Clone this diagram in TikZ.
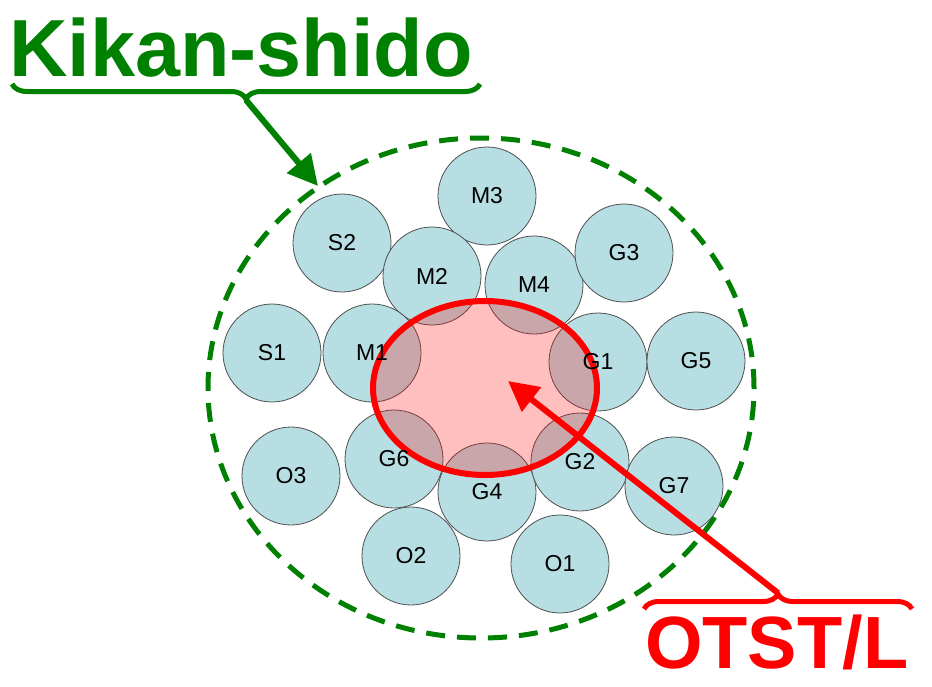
\documentclass[tikz,border=0pt]{standalone}
\usepackage{fontspec}
\setmainfont{Liberation Sans}
\usetikzlibrary{shapes.geometric,arrows.meta,decorations.pathreplacing}
\definecolor{kgreen}{RGB}{0,128,0}
\definecolor{kred}{RGB}{255,0,0}
\definecolor{ballblue}{RGB}{183,222,226}
\definecolor{ballline}{RGB}{80,80,80}
\tikzset{
  ball/.style={circle,minimum size=98pt,inner sep=0pt,fill=ballblue,draw=ballline,line width=0.8pt},
  lbl/.style={inner sep=0pt,font=\fontsize{23}{26}\selectfont,text=black},
  bigtitle/.style={inner sep=0pt,anchor=base west,font=\bfseries\fontsize{81}{90}\selectfont},
  bracestyle/.style={decorate,decoration={brace,amplitude=15pt},line width=5pt},
  fatarrow/.style={line width=6pt,-{Triangle[length=30pt,width=30pt]}}
}
\begin{document}
\begin{tikzpicture}[x=1pt,y=-1pt]
\useasboundingbox (0,0) rectangle (932,686);
% outer dashed ellipse
\node[ellipse,draw=kgreen,line width=5pt,dash pattern=on 19pt off 12pt,minimum width=546pt,minimum height=500pt,inner sep=0pt] (outer) at (481,388) {};
% circles
\node[ball] (M3) at (487,196) {};
\node[ball] (S2) at (342,243) {};
\node[ball] (M2) at (432,276) {};
\node[ball] (M4) at (534,285) {};
\node[ball] (G3) at (624,253) {};
\node[ball] (S1) at (272,353) {};
\node[ball] (M1) at (372,353) {};
\node[ball] (G1) at (598,362) {};
\node[ball] (G5) at (696,361) {};
\node[ball] (O3) at (291,476) {};
\node[ball] (G6) at (394,459) {};
\node[ball] (G4) at (487,492) {};
\node[ball] (G2) at (580,462) {};
\node[ball] (G7) at (674,486) {};
\node[ball] (O2) at (411,556) {};
\node[ball] (O1) at (560,564) {};
% red ellipse
\node[ellipse,draw=kred,line width=6pt,fill=kred,fill opacity=0.25,draw opacity=1,minimum width=224pt,minimum height=174pt,inner sep=0pt] (otst) at (485,388) {};
% labels
\node[lbl] (tM3) at (M3) {M3};
\node[lbl] (tS2) at (S2) {S2};
\node[lbl] (tM2) at (M2) {M2};
\node[lbl] (tM4) at (M4) {M4};
\node[lbl] (tG3) at (G3) {G3};
\node[lbl] (tS1) at (S1) {S1};
\node[lbl] (tM1) at (M1) {M1};
\node[lbl] (tG1) at (G1) {G1};
\node[lbl] (tG5) at (G5) {G5};
\node[lbl] (tO3) at (O3) {O3};
\node[lbl] (tG6) at (G6) {G6};
\node[lbl] (tG4) at (G4) {G4};
\node[lbl] (tG2) at (G2) {G2};
\node[lbl] (tG7) at (G7) {G7};
\node[lbl] (tO2) at (O2) {O2};
\node[lbl] (tO1) at (O1) {O1};
% titles
\node[bigtitle,text=kgreen] (kikan) at (9,76) {Kikan-shido};
\node[bigtitle,text=kred,font=\bfseries\fontsize{74}{82}\selectfont] (otstl) at (645,668) {OTST/L};
% braces
\coordinate (gbL) at (12,84);
\coordinate (gbR) at (480,84);
\coordinate (gtip) at (246,100);
\draw[bracestyle,kgreen] (gbR) -- (gbL);
\coordinate (rbL) at (644,609);
\coordinate (rbR) at (912,609);
\coordinate (rtip) at (778,593);
\draw[bracestyle,kred] (rbL) -- (rbR);
% arrows
\coordinate (gtarget) at (318,186);
\coordinate (rtarget) at (508,381);
\draw[fatarrow,kgreen] (gtip) -- (gtarget);
\draw[fatarrow,kred] (rtip) -- (rtarget);
\end{tikzpicture}
\end{document}
